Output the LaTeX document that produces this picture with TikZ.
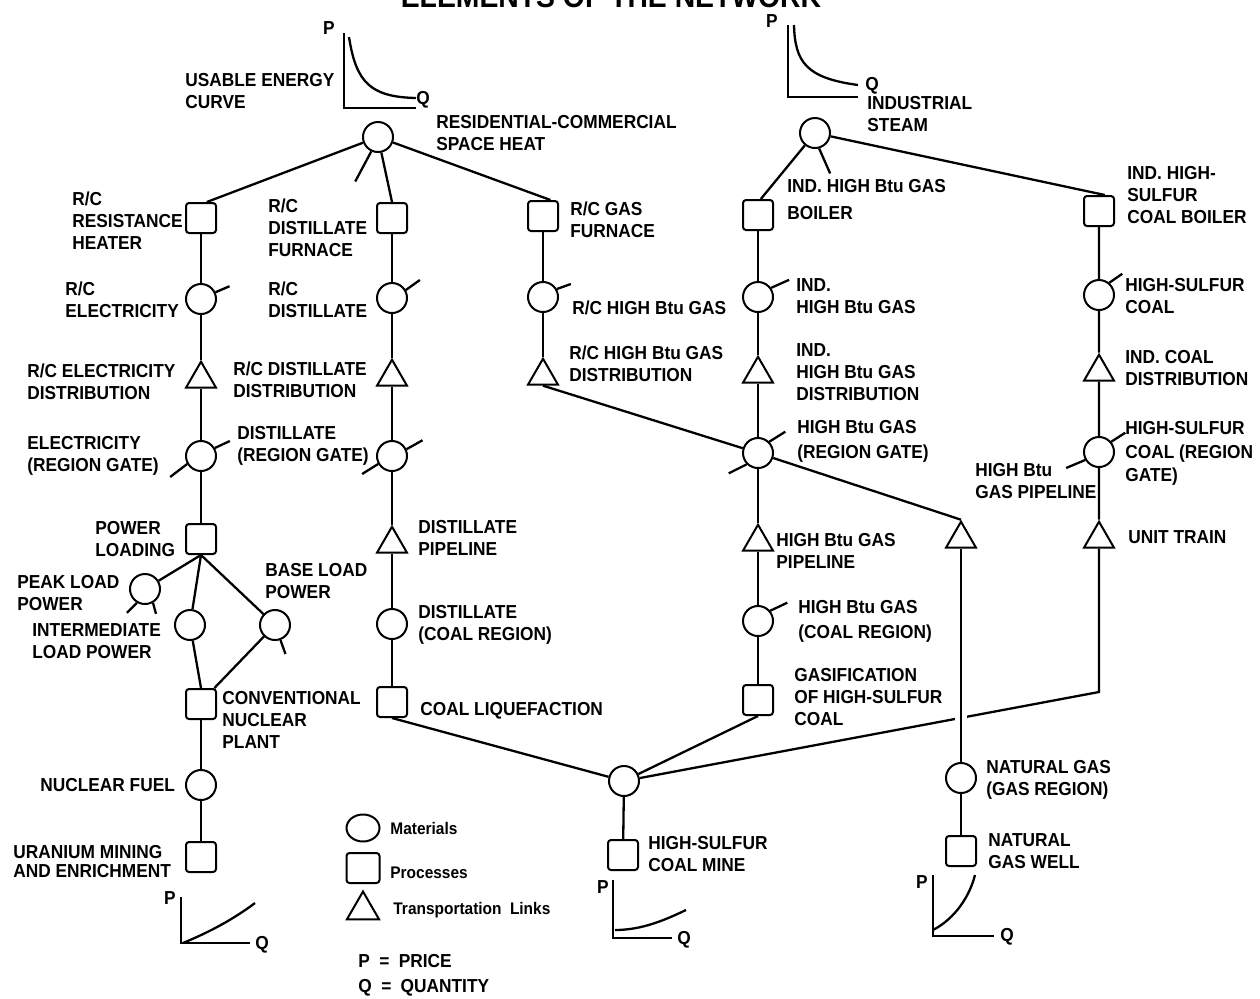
\documentclass[tikz,border=0pt]{standalone}
\usepackage{fontspec}
\setmainfont{Liberation Sans}[FakeStretch=0.92]
\usetikzlibrary{shapes.geometric}
\newcommand\labfont{\bfseries\fontsize{9.4}{11}\selectfont}
\newcommand\legfont{\bfseries\fontsize{8.4}{10}\selectfont}
\begin{document}
\begin{tikzpicture}[x=0.5pt,y=-0.5pt,
  mat/.style={draw,circle,minimum size=15pt,inner sep=0pt,line width=1pt},
  proc/.style={draw,rectangle,rounded corners=1.5pt,minimum size=15pt,inner sep=0pt,line width=1pt},
  trans/.style={draw,regular polygon,regular polygon sides=3,minimum size=17.3pt,inner sep=0pt,line width=1pt},
  con/.style={line width=1.15pt},
  stub/.style={line width=1.15pt},
  lab/.style={anchor=north west,inner sep=0pt,align=left,font=\labfont},
  pq/.style={inner sep=0pt,font=\labfont},
  axis/.style={line width=1.15pt},
  crv/.style={line width=1.15pt}]
\useasboundingbox (0,0) rectangle (1260,998);
\clip (0,0) rectangle (1260,998);

% title (cut off at the top)
\node[anchor=base,inner sep=0pt,font=\bfseries\fontsize{15.4}{18}\selectfont] (title) at (611,7) {ELEMENTS OF THE NETWORK};

% ---------- nodes ----------
\node[mat]  (RC)   at (378,137) {};
\node[mat]  (IS)   at (815,133) {};
\node[proc] (RRH)  at (201,218) {};
\node[proc] (DF)   at (392,218) {};
\node[proc] (GF)   at (543,216) {};
\node[proc] (IGB)  at (758,215) {};
\node[proc] (CB)   at (1099,211) {};
\node[mat]  (RCE)  at (201,299) {};
\node[mat]  (RCD)  at (392,298) {};
\node[mat]  (RCG)  at (543,297) {};
\node[mat]  (IG)   at (758,297) {};
\node[mat]  (HSC)  at (1099,295) {};
\node[trans] (RCET) at (201,379) {};
\node[trans] (RCDT) at (392,377) {};
\node[trans] (RCGT) at (543,376) {};
\node[trans] (IGT)  at (758,374) {};
\node[trans] (ICT)  at (1099,372) {};
\node[mat]  (EG)   at (201,456) {};
\node[mat]  (DG)   at (392,456) {};
\node[mat]  (HG)   at (758,453) {};
\node[mat]  (CG)   at (1099,452) {};
\node[proc] (PL)   at (201,539) {};
\node[trans] (DP)   at (392,544) {};
\node[trans] (HGP)  at (758,542) {};
\node[trans] (NGT)  at (961,539) {};
\node[trans] (UT)   at (1099,539) {};
\node[mat]  (PK)   at (145,589) {};
\node[mat]  (IL)   at (190,625) {};
\node[mat]  (BL)   at (275,625) {};
\node[mat]  (DCR)  at (392,624) {};
\node[mat]  (HGC)  at (758,621) {};
\node[proc] (CN)   at (201,704) {};
\node[proc] (CL)   at (392,702) {};
\node[proc] (GS)   at (758,700) {};
\node[mat]  (NF)   at (201,785) {};
\node[mat]  (COAL) at (624,781) {};
\node[mat]  (NG)   at (961,778) {};
\node[proc] (UM)   at (201,857) {};
\node[proc] (MINE) at (623,855) {};
\node[proc] (NGW)  at (961,851) {};
\coordinate (ucorner) at (1099,692);

% ---------- connectors ----------
\draw[con] (RC) -- (RRH.70);
\draw[con] (RC) -- (DF.north);
\draw[con] (RC) -- (GF.65);
\draw[con] (IS) -- (IGB.80);
\draw[con] (IS) -- (CB.70);

\draw[con] (RRH) -- (RCE) -- (RCET) -- (EG) -- (PL);
\draw[con] (PL.south) -- (PK);
\draw[con] (PL.south) -- (IL);
\draw[con] (PL.south) -- (BL);
\draw[con] (IL) -- (CN.north);
\draw[con] (BL) -- (CN.50);
\draw[con] (CN) -- (NF) -- (UM);

\draw[con] (DF) -- (RCD) -- (RCDT) -- (DG) -- (DP) -- (DCR) -- (CL);
\draw[con] (CL.south) -- (COAL);

\draw[con] (GF) -- (RCG) -- (RCGT);
\draw[con] (RCGT.south) -- (HG);

\draw[con] (IGB) -- (IG) -- (IGT) -- (HG) -- (HGP) -- (HGC) -- (GS);
\draw[con] (GS.south) -- (COAL);
\draw[con] (HG) -- (NGT.north);

\draw[con] (CB) -- (HSC) -- (ICT) -- (CG) -- (UT) -- (ucorner) -- (COAL);
\draw[con,preaction={draw=white,line width=6pt}] (NGT) -- (NG);
\draw[con] (NG) -- (NGW);
\draw[con] (COAL) -- (MINE);

% ---------- stubs ----------
\draw[stub] (RC.-115) -- ++(-16,30);
\draw[stub] (IS.-75) -- ++(11,25);
\draw[stub] (RCE.25) -- ++(14,-6);
\draw[stub] (EG.30) -- ++(15,-7);
\draw[stub] (EG.-150) -- ++(-17,13);
\draw[stub] (PK.-120) -- ++(-10,10);
\draw[stub] (PK.-60) -- ++(3,11);
\draw[stub] (BL.-70) -- ++(5,14);
\draw[stub] (RCD.30) -- ++(14,-10);
\draw[stub] (DG.25) -- ++(16,-9);
\draw[stub] (DG.-150) -- ++(-16,10);
\draw[stub] (RCG.30) -- ++(14,-5);
\draw[stub] (IG.35) -- ++(18,-8);
\draw[stub] (HG.45) -- ++(16,-10);
\draw[stub] (HG.-135) -- ++(-18,9);
\draw[stub] (HGC.40) -- ++(17,-8);
\draw[stub] (HSC.50) -- ++(13,-9);
\draw[stub] (CG.40) -- ++(14,-9);
\draw[stub] (CG.-150) -- ++(-19,8);

% ---------- price/quantity curves ----------
\draw[axis] (344,33) -- (344,108) -- (416,108);
\draw[crv] (349,37) .. controls (356,82) and (370,97) .. (416,98);
\node[pq] (p1) at (329,28) {P};
\node[pq] (q1) at (423,100) {Q};

\draw[axis] (788,25) -- (788,97) -- (858,97);
\draw[crv] (794,25) .. controls (795,62) and (806,78) .. (858,85);
\node[pq] (p2) at (772,21) {P};
\node[pq] (q2) at (872,86) {Q};

\draw[axis] (181,897) -- (181,943) -- (250,943);
\draw[crv] (183,943) .. controls (212,931) and (235,918) .. (255,903);
\node[pq] (p3) at (170,898) {P};
\node[pq] (q3) at (262,945) {Q};

\draw[axis] (613,880) -- (613,938) -- (672,938);
\draw[crv] (615,930) .. controls (642,930) and (665,920) .. (686,910);
\node[pq] (p4) at (603,887) {P};
\node[pq] (q4) at (684,940) {Q};

\draw[axis] (933,875) -- (933,936) -- (994,936);
\draw[crv] (933,930) .. controls (956,918) and (970,895) .. (975,875);
\node[pq] (p5) at (922,882) {P};
\node[pq] (q5) at (1007,937) {Q};

% ---------- labels ----------
\node[lab] (l1)  at (185,73)  {USABLE ENERGY\\CURVE};
\node[lab] (l2)  at (436,115) {RESIDENTIAL-COMMERCIAL\\SPACE HEAT};
\node[lab] (l3)  at (867,96)  {INDUSTRIAL\\STEAM};
\node[lab] (l4)  at (72,191)  {R/C\\RESISTANCE\\HEATER};
\node[lab] (l5)  at (268,198) {R/C\\DISTILLATE\\FURNACE};
\node[lab] (l6)  at (570,201) {R/C GAS\\FURNACE};
\node[lab] (l7)  at (787,179) {IND. HIGH Btu GAS\\[2.5pt]BOILER};
\node[lab] (l8)  at (1127,166) {IND. HIGH-\\SULFUR\\COAL BOILER};
\node[lab] (l9)  at (65,281)  {R/C\\ELECTRICITY};
\node[lab] (l10) at (268,281) {R/C\\DISTILLATE};
\node[lab] (l11) at (572,300) {R/C HIGH Btu GAS};
\node[lab] (l12) at (796,278) {IND.\\HIGH Btu GAS};
\node[lab] (l13) at (1125,278) {HIGH-SULFUR\\COAL};
\node[lab] (l14) at (27,363)  {R/C ELECTRICITY\\DISTRIBUTION};
\node[lab] (l15) at (233,361) {R/C DISTILLATE\\DISTRIBUTION};
\node[lab] (l16) at (569,345) {R/C HIGH Btu GAS\\DISTRIBUTION};
\node[lab] (l17) at (796,343) {IND.\\HIGH Btu GAS\\DISTRIBUTION};
\node[lab] (l18) at (1125,350) {IND. COAL\\DISTRIBUTION};
\node[lab] (l19) at (27,436)  {ELECTRICITY\\(REGION GATE)};
\node[lab] (l20) at (237,426) {DISTILLATE\\(REGION GATE)};
\node[lab] (l21) at (797,420) {HIGH Btu GAS\\[1.5pt](REGION GATE)};
\node[lab] (l22) at (1125,421) {HIGH-SULFUR\\[1pt]COAL (REGION\\[0.5pt]GATE)};
\node[lab] (l23) at (975,463) {HIGH Btu\\GAS PIPELINE};
\node[lab] (l24) at (95,521)  {POWER\\LOADING};
\node[lab] (l25) at (418,520) {DISTILLATE\\PIPELINE};
\node[lab] (l26) at (776,533) {HIGH Btu GAS\\PIPELINE};
\node[lab] (l27) at (1128,530) {UNIT TRAIN};
\node[lab] (l28) at (17,575)  {PEAK LOAD\\POWER};
\node[lab] (l29) at (265,563) {BASE LOAD\\POWER};
\node[lab] (l30) at (32,623)  {INTERMEDIATE\\LOAD POWER};
\node[lab] (l31) at (418,605) {DISTILLATE\\(COAL REGION)};
\node[lab] (l32) at (798,600) {HIGH Btu GAS\\[1.5pt](COAL REGION)};
\node[lab] (l33) at (222,691) {CONVENTIONAL\\NUCLEAR\\PLANT};
\node[lab] (l34) at (420,702) {COAL LIQUEFACTION};
\node[lab] (l35) at (794,668) {GASIFICATION\\OF HIGH-SULFUR\\COAL};
\node[lab] (l36) at (40,778)  {NUCLEAR FUEL};
\node[lab] (l37) at (986,760) {NATURAL GAS\\(GAS REGION)};
\node[lab] (l38) at (13,845)  {URANIUM MINING\\[-1.5pt]AND ENRICHMENT};
\node[lab] (l39) at (648,836) {HIGH-SULFUR\\COAL MINE};
\node[lab] (l40) at (988,833) {NATURAL\\GAS WELL};

% ---------- legend ----------
\node[draw,ellipse,minimum width=16.5pt,minimum height=13.5pt,inner sep=0pt,line width=1pt] (Lm) at (363,828) {};
\node[proc,minimum width=16.5pt,minimum height=15pt] (Lp) at (363,868) {};
\node[trans,minimum size=18.5pt] (Lt) at (363,910) {};
\node[anchor=base west,inner sep=0pt,font=\legfont] (Lmt) at (390,834) {Materials};
\node[anchor=base west,inner sep=0pt,font=\legfont] (Lpt) at (390,878) {Processes};
\node[anchor=base west,inner sep=0pt,font=\legfont] (Ltt) at (393,914) {Transportation\enspace Links};
\node[anchor=base west,inner sep=0pt,font=\labfont] (Lpq1) at (358,967) {P\enspace=\enspace PRICE};
\node[anchor=base west,inner sep=0pt,font=\labfont] (Lpq2) at (358,992) {Q\enspace=\enspace QUANTITY};
\end{tikzpicture}
\end{document}
